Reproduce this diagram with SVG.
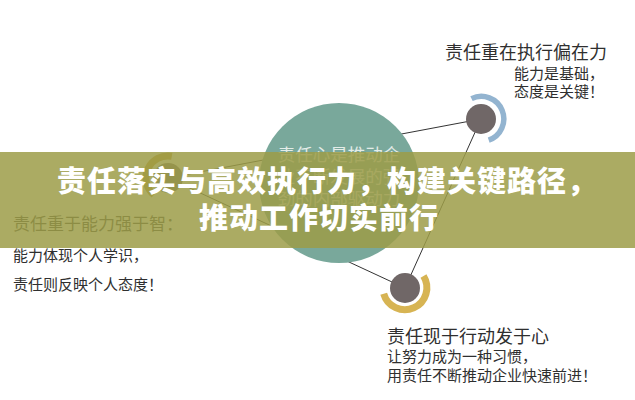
<svg xmlns="http://www.w3.org/2000/svg" width="635" height="400" viewBox="0 0 635 400">
<style>
text{font-family:"Noto Sans CJK SC","Noto Sans",sans-serif;}
.lbl{fill:#2f2f2f;}
.title{font-size:18px;}
.sub{font-size:15px;}
.inner{font-size:17.5px;fill:#e4ece8;}
.banner{font-size:29px;font-weight:900;fill:#ffffff;letter-spacing:1px;}
.conn{stroke:#333;stroke-width:1;fill:none;}
.dot{fill:#706767;}
.ring{fill:none;}
</style>
<rect width="635" height="400" fill="#ffffff"/>
<g id="connectors">
<line class="conn" x1="168" y1="178" x2="481" y2="119"/>
<line class="conn" x1="168" y1="178" x2="405" y2="288"/>
<line class="conn" x1="481" y1="119" x2="405" y2="288"/>
</g>
<g id="center-node">
<circle cx="339" cy="183" r="80" fill="#79a89b"/>
<text class="inner" x="339" y="161" text-anchor="middle">责任心是推动企</text>
<text class="inner" x="339" y="183" text-anchor="middle">业不断发展的强</text>
<text class="inner" x="339" y="205" text-anchor="middle">劲的内部驱动力</text>
</g>
<g id="node-top-right">
<path class="ring" d="M471.5 98.6 A22.5 22.5 0 1 1 488.7 140.1" stroke="#93b4d0" stroke-width="5.5"/>
<circle class="dot" cx="481" cy="119" r="15"/>
<text class="lbl title" x="445" y="59">责任重在执行偏在力</text>
<text class="lbl sub" x="514" y="79">能力是基础，</text>
<text class="lbl sub" x="514" y="97">态度是关键！</text>
</g>
<g id="node-bottom">
<path class="ring" d="M423.5 276 A22 22 0 1 1 383.7 293.7" stroke="#d7b453" stroke-width="7"/>
<circle class="dot" cx="405" cy="288" r="15"/>
<text class="lbl title" x="387" y="343">责任现于行动发于心</text>
<text class="lbl sub" x="387" y="362">让努力成为一种习惯，</text>
<text class="lbl sub" x="387" y="381">用责任不断推动企业快速前进！</text>
</g>
<g id="node-left">
<path class="ring" d="M171.8 156.3 A22 22 0 0 0 153.9 194.9" stroke="#c4982f" stroke-width="7"/>
<circle class="dot" cx="168" cy="178" r="15"/>
<text class="lbl" x="13" y="230" font-size="17">责任重于能力强于智：</text>
<text class="lbl sub" x="13" y="261">能力体现个人学识，</text>
<text class="lbl sub" x="13" y="290">责任则反映个人态度！</text>
</g>
<g id="banner">
<rect x="0" y="152" width="635" height="96" fill="#9c9c48" fill-opacity="0.85"/>
<text class="banner" x="57" y="192">责任落实与高效执行力，构建关键路径，</text>
<text class="banner" x="199" y="229">推动工作切实前行</text>
</g>
</svg>
